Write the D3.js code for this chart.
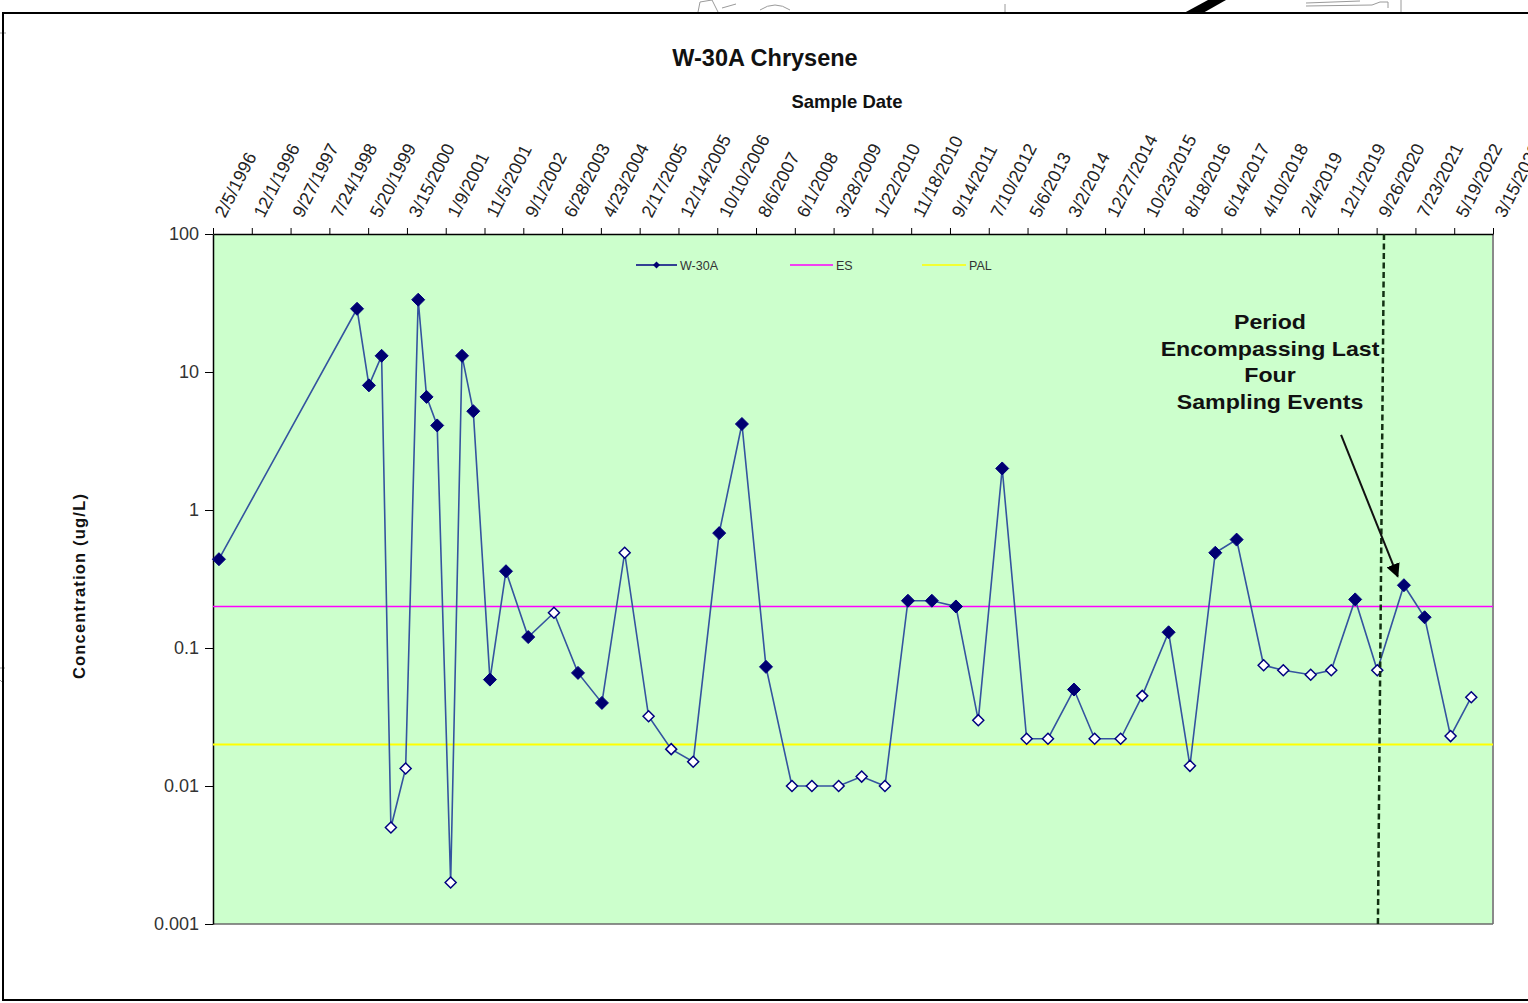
<!DOCTYPE html>
<html>
<head>
<meta charset="utf-8">
<script src="https://cdn.jsdelivr.net/npm/d3@7"></script>
<style>
  html, body { margin: 0; padding: 0; background: #fff; overflow: hidden; }
  svg { display: block; font-family: "Liberation Sans", Arial, sans-serif; }
</style>
</head>
<body>
<svg id="chart" width="1528" height="1003"></svg>
<script>
// ---- data -------------------------------------------------------------
const sampleDates = [
  "1996-03-22","1999-02-23","1999-05-26","1999-09-01","1999-11-12","2000-03-05",
  "2000-06-10","2000-08-14","2000-11-04","2001-02-16","2001-05-15","2001-08-10",
  "2001-12-17","2002-04-20","2002-10-09","2003-04-26","2003-10-29","2004-05-01",
  "2004-10-24","2005-04-27","2005-10-19","2006-04-07","2006-10-25","2007-04-19",
  "2007-10-22","2008-05-10","2008-10-11","2009-05-06","2009-10-31","2010-04-29",
  "2010-10-24","2011-04-27","2011-10-30","2012-04-20","2012-10-22","2013-04-29",
  "2013-10-11","2014-04-30","2014-10-07","2015-04-26","2015-10-10","2016-05-01",
  "2016-10-13","2017-04-27","2017-10-09","2018-05-06","2018-10-05","2019-05-05",
  "2019-10-11","2020-04-13","2020-10-01","2021-04-25","2021-10-02","2022-04-21",
  "2022-09-28"
];
// W-30A chrysene concentration, ug/L
const w30aValues = [
  0.44, 28.7, 8.0, 13.1, 0.005, 0.0134,
  33.4, 6.6, 4.1, 0.002, 13.1, 5.2,
  0.059, 0.36, 0.12, 0.18, 0.066, 0.040,
  0.49, 0.032, 0.0185, 0.015, 0.68, 4.2,
  0.073, 0.010, 0.010, 0.010, 0.0117, 0.010,
  0.22, 0.22, 0.20, 0.030, 2.0, 0.022,
  0.022, 0.050, 0.022, 0.022, 0.045, 0.13,
  0.014, 0.49, 0.61, 0.075, 0.069, 0.064,
  0.069, 0.225, 0.069, 0.285, 0.167, 0.023,
  0.044
];
// true = not detected (reporting limit shown, open marker)
const nonDetect = [
  false, false, false, false, true, true,
  false, false, false, true, false, false,
  false, false, false, true, false, false,
  true, true, true, true, false, false,
  false, true, true, true, true, true,
  false, false, false, true, false, true,
  true, false, true, true, true, false,
  true, false, false, true, true, true,
  true, false, true, false, false, true,
  true
];
const esLimit = 0.2;    // Enforcement Standard
const palLimit = 0.02;  // Preventive Action Limit

const xTickLabels = [
  "2/5/1996","12/1/1996","9/27/1997","7/24/1998","5/20/1999","3/15/2000",
  "1/9/2001","11/5/2001","9/1/2002","6/28/2003","4/23/2004","2/17/2005",
  "12/14/2005","10/10/2006","8/6/2007","6/1/2008","3/28/2009","1/22/2010",
  "11/18/2010","9/14/2011","7/10/2012","5/6/2013","3/2/2014","12/27/2014",
  "10/23/2015","8/18/2016","6/14/2017","4/10/2018","2/4/2019","12/1/2019",
  "9/26/2020","7/23/2021","5/19/2022","3/15/2023"
];
const yTickValues = [0.001, 0.01, 0.1, 1, 10, 100];
const yTickLabels = ["0.001", "0.01", "0.1", "1", "10", "100"];

const legendNames = ["W-30A", "ES", "PAL"];
const noteLines = ["Period", "Encompassing Last", "Four", "Sampling Events"];
// dashed marker line (top / bottom dates) and arrow (date, value) ends
const periodLineDates = ["2020-11-22", "2020-10-06"];
const arrowFrom = ["2019-12-26", 3.5];
const arrowTo = ["2021-03-08", 0.33];

// ---- setup ------------------------------------------------------------
const svg = d3.select("#chart");
const parseMDY = d3.utcParse("%m/%d/%Y");
const parseISO = d3.utcParse("%Y-%m-%d");

const plot = { left: 213, right: 1493, top: 234, bottom: 924 };

const x = d3.scaleUtc()
  .domain([parseMDY(xTickLabels[0]), parseMDY(xTickLabels[xTickLabels.length - 1])])
  .range([plot.left, plot.right]);
const y = d3.scaleLog()
  .domain([0.001, 100])
  .range([plot.bottom, plot.top]);

const points = sampleDates.map((d, i) => ({
  date: parseISO(d), value: w30aValues[i], nd: nonDetect[i]
}));

// page frame
svg.append("rect").attr("width", 1528).attr("height", 1003).attr("fill", "#fff");

// drawing fragments above the frame
const frag = svg.append("g").attr("fill", "none").attr("stroke", "#9a9a9a").attr("stroke-width", 1);
frag.append("path").attr("d", "M698,12 L700,2 L712,0 M712,0 L718,12 M722,8 L736,4");
frag.append("path").attr("d", "M760,10 Q775,0 790,10");
frag.append("path").attr("d", "M1005,4 L1005,13");
frag.append("path").attr("d", "M1306,3 L1360,1 M1306,6 L1372,5 L1380,2 M1380,2 L1388,2 L1388,8 M1401,0 L1401,12");
frag.append("path").attr("d", "M0,33 L6,33 M0,668 L5,668 M0,680 L4,684");
svg.append("path").attr("d", "M1184,13 L1203,13 L1226,0 L1208,0 Z").attr("fill", "#000");

svg.append("path")
  .attr("d", "M1528,13 L3,13 L3,1000 L1528,1000")
  .attr("fill", "none").attr("stroke", "#000").attr("stroke-width", 2);

// plot area
svg.append("rect")
  .attr("x", plot.left).attr("y", plot.top)
  .attr("width", plot.right - plot.left).attr("height", plot.bottom - plot.top)
  .attr("fill", "#ccffcc");
svg.append("line")
  .attr("x1", plot.right).attr("x2", plot.right).attr("y1", plot.top).attr("y2", plot.bottom)
  .attr("stroke", "#8a8a8a").attr("stroke-width", 2);
svg.append("line")
  .attr("x1", plot.left).attr("x2", plot.right).attr("y1", plot.bottom).attr("y2", plot.bottom)
  .attr("stroke", "#6a6a6a").attr("stroke-width", 1.5);

// titles
svg.append("text").attr("x", 765).attr("y", 66).attr("text-anchor", "middle")
  .attr("font-size", 23.5).attr("font-weight", "bold").attr("fill", "#111")
  .text("W-30A Chrysene");
svg.append("text").attr("x", 847).attr("y", 108).attr("text-anchor", "middle")
  .attr("font-size", 18.5).attr("font-weight", "bold").attr("fill", "#111")
  .text("Sample Date");
svg.append("text")
  .attr("transform", "translate(85,586) rotate(-90)")
  .attr("text-anchor", "middle").attr("font-size", 16.5).attr("font-weight", "bold")
  .attr("letter-spacing", 1.2).attr("fill", "#111")
  .text("Concentration (ug/L)");

// top date axis
const xAxis = svg.append("g")
  .attr("transform", `translate(0,${plot.top})`)
  .call(d3.axisTop(x)
    .tickValues(xTickLabels.map(parseMDY))
    .tickFormat((d, i) => xTickLabels[i])
    .tickSize(6).tickSizeOuter(0));
xAxis.select(".domain").attr("stroke", "#000").attr("stroke-width", 1.5);
xAxis.selectAll(".tick line").attr("stroke", "#000");
xAxis.selectAll(".tick text")
  .attr("font-size", 18).attr("fill", "#222").attr("font-family", "\"Liberation Sans\", Arial, sans-serif")
  .attr("text-anchor", "start")
  .attr("x", 0).attr("y", 0).attr("dy", "0.35em")
  .attr("transform", "translate(6,-18) rotate(-63)");

// left log axis
const yAxis = svg.append("g")
  .attr("transform", `translate(${plot.left},0)`)
  .call(d3.axisLeft(y)
    .tickValues(yTickValues)
    .tickFormat((d, i) => yTickLabels[i])
    .tickSize(8).tickPadding(6).tickSizeOuter(0));
yAxis.select(".domain").attr("stroke", "#000").attr("stroke-width", 1.5);
yAxis.selectAll(".tick line").attr("stroke", "#000");
yAxis.selectAll(".tick text")
  .attr("font-size", 18).attr("fill", "#333")
  .attr("font-family", "\"Liberation Sans\", Arial, sans-serif");

// limit lines
svg.append("line")
  .attr("x1", plot.left).attr("x2", plot.right)
  .attr("y1", y(esLimit)).attr("y2", y(esLimit))
  .attr("stroke", "#ff00ff").attr("stroke-width", 1.5);
svg.append("line")
  .attr("x1", plot.left).attr("x2", plot.right)
  .attr("y1", y(palLimit)).attr("y2", y(palLimit))
  .attr("stroke", "#ffff00").attr("stroke-width", 2);

// series line
svg.append("path")
  .datum(points)
  .attr("fill", "none").attr("stroke", "#34549f").attr("stroke-width", 1.6)
  .attr("d", d3.line().x(d => x(d.date)).y(d => y(d.value)));

// markers
const diamond = r => `M0,${-r}L${r},0L0,${r}L${-r},0Z`;
svg.append("g").selectAll("path")
  .data(points)
  .join("path")
  .attr("transform", d => `translate(${x(d.date)},${y(d.value)})`)
  .attr("d", d => diamond(d.nd ? 5.5 : 6.5))
  .attr("fill", d => d.nd ? "#ffffff" : "#000070")
  .attr("stroke", "#000080")
  .attr("stroke-width", d => d.nd ? 1.5 : 1);

// legend
const legend = svg.append("g").attr("font-size", 12.5).attr("fill", "#333");
const legendItems = [
  { name: legendNames[0], x0: 636, x1: 677, color: "#000080", marker: true },
  { name: legendNames[1], x0: 790, x1: 833, color: "#ff00ff", marker: false },
  { name: legendNames[2], x0: 922, x1: 966, color: "#ffff00", marker: false }
];
legendItems.forEach(it => {
  legend.append("line").attr("x1", it.x0).attr("x2", it.x1).attr("y1", 265).attr("y2", 265)
    .attr("stroke", it.color).attr("stroke-width", 1.5);
  if (it.marker) {
    legend.append("path").attr("transform", `translate(${(it.x0 + it.x1) / 2},265)`)
      .attr("d", diamond(3.5)).attr("fill", "#000070");
  }
  legend.append("text").attr("x", it.x1 + 3).attr("y", 269.5).text(it.name);
});

// dashed period marker
svg.append("line")
  .attr("x1", x(parseISO(periodLineDates[0]))).attr("y1", plot.top)
  .attr("x2", x(parseISO(periodLineDates[1]))).attr("y2", plot.bottom)
  .attr("stroke", "#123012").attr("stroke-width", 2.5).attr("stroke-dasharray", "6,3.5");

// note and arrow
const note = svg.append("g").attr("font-size", 20.5).attr("font-weight", "bold").attr("fill", "#111");
const noteBase = [329, 356, 382, 409];
noteLines.forEach((t, i) => {
  note.append("text")
    .attr("transform", `translate(1270,${noteBase[i]}) scale(1.13,1)`)
    .attr("text-anchor", "middle").text(t);
});

svg.append("defs").append("marker")
  .attr("id", "arrowhead").attr("viewBox", "0 0 10 10")
  .attr("refX", 9).attr("refY", 5)
  .attr("markerWidth", 7).attr("markerHeight", 7)
  .attr("markerUnits", "strokeWidth")
  .attr("orient", "auto")
  .append("path").attr("d", "M0,0L10,5L0,10Z").attr("fill", "#000");
svg.append("line")
  .attr("x1", x(parseISO(arrowFrom[0]))).attr("y1", y(arrowFrom[1]))
  .attr("x2", x(parseISO(arrowTo[0]))).attr("y2", y(arrowTo[1]))
  .attr("stroke", "#111").attr("stroke-width", 2)
  .attr("marker-end", "url(#arrowhead)");
</script>
</body>
</html>
